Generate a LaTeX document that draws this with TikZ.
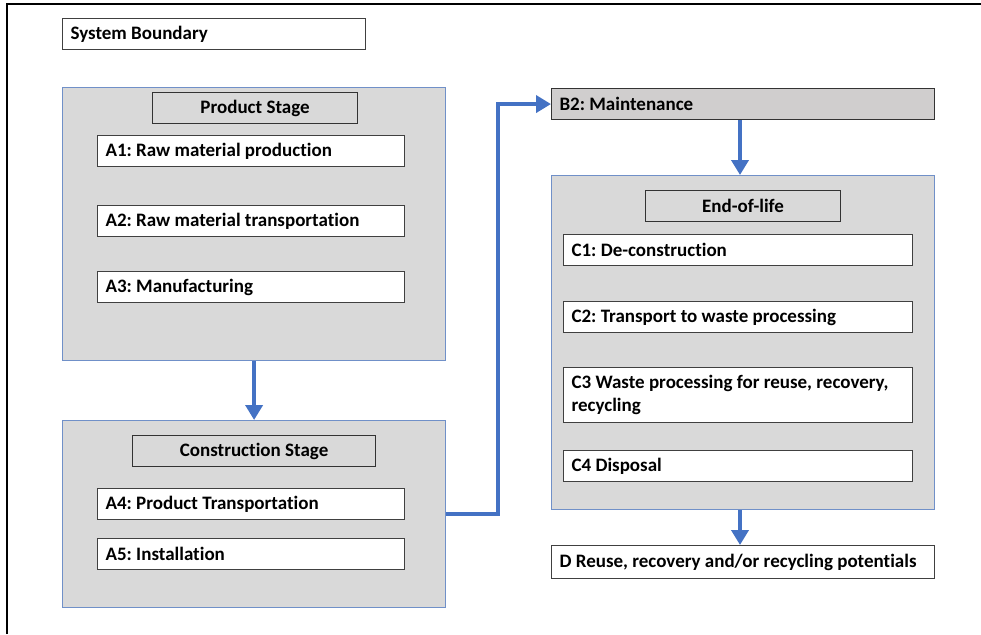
\documentclass[tikz,border=0pt]{standalone}
\usepackage{fontspec}
\setmainfont{Carlito}[Ligatures=NoCommon]
\usetikzlibrary{arrows.meta}
\definecolor{stagegray}{HTML}{D9D9D9}
\definecolor{headgray}{HTML}{D0CECE}
\definecolor{flowblue}{HTML}{4472C4}
\definecolor{edgeblue}{HTML}{7090C8}
\frenchspacing
\begin{document}
\begin{tikzpicture}[x=1pt,y=-1pt,
   font=\fontsize{19}{23.5}\selectfont\bfseries,
   stage/.style={draw=edgeblue, line width=1.2pt, fill=stagegray, anchor=north west, inner sep=0pt},
   item/.style={draw=black!75, line width=1.1pt, fill=white, anchor=north west,
                inner xsep=8pt, inner ysep=0pt, minimum height=31pt, align=flush left},
   head/.style={draw=black!80, line width=1.1pt, fill=stagegray, anchor=north west,
                inner sep=0pt, minimum height=31pt},
   flow/.style={draw=flowblue, line width=4.5pt, -{Triangle[width=17pt,length=15pt]}}]
   \useasboundingbox (0,0) rectangle (981,634);

   % boundary frame
   \draw[line width=1.3pt] (7,634) |- (981,4);
   \node[item, text width=287pt] (sysb) at (62,18) {System Boundary};

   % product stage
   \node[stage, minimum width=383pt, minimum height=273pt] (prod) at (62,87) {};
   \node[head, minimum width=205pt] (prodh) at (152,92) {Product Stage};
   \node[item, text width=291pt] (a1) at (97,135) {A1: Raw material production};
   \node[item, text width=291pt] (a2) at (97,205) {A2: Raw material transportation};
   \node[item, text width=291pt] (a3) at (97,271) {A3: Manufacturing};

   % construction stage
   \node[stage, minimum width=383pt, minimum height=187pt] (cons) at (62,420) {};
   \node[head, minimum width=243pt] (consh) at (132,435) {Construction Stage};
   \node[item, text width=291pt] (a4) at (97,488) {A4: Product Transportation};
   \node[item, text width=291pt] (a5) at (97,538) {A5: Installation};

   % use stage
   \node[item, fill=headgray, draw=black!80, text width=367pt] (b2) at (551,88) {B2: Maintenance};

   % end of life
   \node[stage, minimum width=383pt, minimum height=334pt] (eol) at (551,175) {};
   \node[head, minimum width=195pt] (eolh) at (645,190) {End-of-life};
   \node[item, text width=333pt] (c1) at (563,234) {C1: De-construction};
   \node[item, text width=333pt] (c2) at (563,301) {C2: Transport to waste processing};
   \node[item, text width=333pt, minimum height=55pt] (c3) at (563,367)
      {C3 Waste processing for reuse, recovery,\\recycling};
   \node[item, text width=367pt, inner xsep=8pt, minimum height=33pt] (dpot) at (551,545) {D Reuse, recovery and/or recycling potentials};
   \node[item, text width=333pt] (c4) at (563,450) {C4 Disposal};

   % flows
   \draw[flow] (prod.south) -- (cons.north);
   \draw[flow] (cons.east) -- ++(52,0) |- (b2.west);
   \draw[flow] (b2.south -| 740,0) -- (eol.north -| 740,0);
   \draw[flow] (eol.south -| 740,0) -- (dpot.north -| 740,0);
\end{tikzpicture}
\end{document}
